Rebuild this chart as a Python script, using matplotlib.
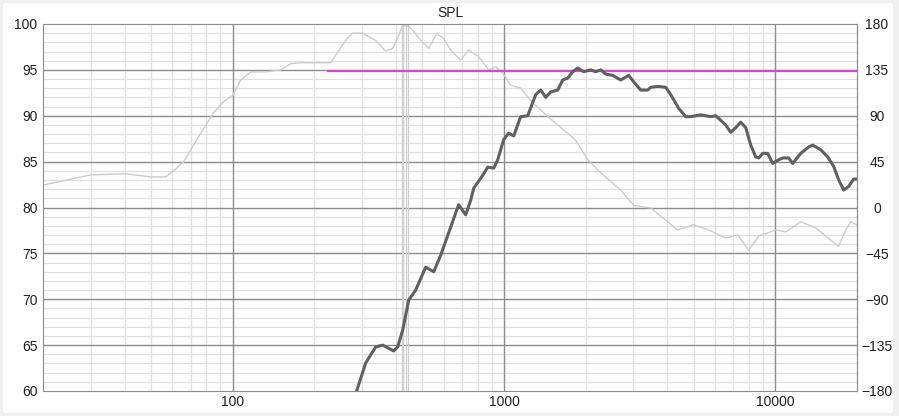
import numpy as np
import matplotlib.pyplot as plt
from matplotlib.patches import Rectangle

plt.rcParams['font.family'] = ['Liberation Sans', 'DejaVu Sans']
plt.rcParams['font.size'] = 10

# phase (deg, right axis)
phase_f = [20, 22.6, 30, 40.3, 49.9, 56.6, 60.1, 66, 74.3, 85.1, 91.9, 100, 107, 116.5,
           132.3, 150.3, 163.6, 178, 229.6, 261, 276.9, 301, 336, 366, 388.8, 409.6,
           423.5, 441.7, 460.8, 493, 527.8, 564.5, 594.4, 636, 692.3, 741, 806.8, 878.4,
           932.1, 989, 1058, 1152, 1254, 1425, 1660, 1838, 2034, 2272, 2693, 3006, 3473,
           4365, 5000, 5683, 6563, 7269, 7980, 8692, 10035, 10920, 12404, 14090, 16000,
           17130, 18180, 18970, 20000]
phase_deg = [22, 25, 32, 33, 30, 30, 35, 45, 68, 93, 103, 110, 125, 133,
             133, 135, 141, 142, 142, 164, 171, 171, 164, 153.5, 156, 169,
             179, 178, 174, 164, 156, 170, 167, 154.5, 144.7, 154.5, 148, 135,
             138, 132, 120, 117, 105, 91, 76, 66, 47, 34, 17, 2, -0.5,
             -22, -17, -22, -30, -27, -42, -28, -22, -24, -14, -20, -32,
             -38, -22, -14, -17]

# SPL (dB, left axis)
spl_f = [286.4, 309.2, 336.5, 357.2, 392.1, 405.6, 423.5, 445.4, 472.6, 514.5, 550.8,
         584.5, 663.7, 680.8, 722.5, 754, 773.5, 834.6, 871, 916.6, 948, 997.5, 1041,
         1086, 1152, 1223, 1309, 1366, 1425, 1486, 1578, 1646, 1717, 1792, 1869, 1967,
         2087, 2178, 2272, 2370, 2515, 2693, 2881, 3006, 3191, 3386, 3473, 3686, 3945,
         4117, 4406, 4675, 4876, 5309, 5779, 6031, 6563, 6848, 7146, 7457, 7781, 8118,
         8470, 8692, 8985, 9375, 9781, 10292, 10648, 11204, 11590, 12404, 13276, 13735,
         14700, 15600, 16400, 17130, 17870, 18640, 19450, 20000]
spl_db = [60.0, 63.05, 64.8, 65.0, 64.36, 64.8, 66.65, 69.9, 71.0, 73.5, 73.0,
          74.8, 79.4, 80.3, 79.2, 80.8, 82.1, 83.5, 84.4, 84.3, 85.2, 87.4, 88.1,
          87.8, 89.9, 90.0, 92.3, 92.8, 92.0, 92.6, 92.8, 93.9, 94.1, 94.8, 95.2, 94.8,
          95.0, 94.8, 95.0, 94.55, 94.4, 93.9, 94.4, 93.7, 92.8, 92.8, 93.1, 93.2, 93.1,
          92.3, 90.8, 89.9, 89.9, 90.1, 89.9, 90.0, 89.0, 88.2, 88.7, 89.3, 88.7, 86.8,
          85.5, 85.4, 85.9, 85.9, 84.8, 85.2, 85.4, 85.4, 84.8, 85.9, 86.6, 86.8,
          86.3, 85.5, 84.5, 83.0, 81.9, 82.3, 83.1, 83.1]

# target level line
target_f = [224, 20000]
target_db = [94.9, 94.9]

# marker lines
marker_f = [420, 425, 437, 443]


def db2deg(v):
    return (np.asarray(v) - 80) * 9.0


def deg2db(v):
    return np.asarray(v) / 9.0 + 80


W, H = 899, 416
fig = plt.figure(figsize=(W / 100, H / 100), dpi=100, facecolor='#f0f0f0')
fig.patches.append(Rectangle((3 / W, 3 / H), 890 / W, 410 / H, transform=fig.transFigure,
                             facecolor='white', edgecolor='none', zorder=-10))
ax = fig.add_axes([43 / W, 1 - 391 / H, (857 - 43) / W, (391 - 24) / H])
ax.set_xscale('log')
ax.set_xlim(20, 20000)
ax.set_ylim(60, 100)

# grid
minor_x = [m * 10 ** e for e in range(1, 5) for m in range(2, 10)]
for x in minor_x:
    if 20 < x < 20000:
        ax.axvline(x, color='#e0e0e0', lw=0.9, zorder=0)
for y in range(61, 100):
    if y % 5:
        ax.axhline(y, color='#e0e0e0', lw=0.9, zorder=0)
for x in [100, 1000, 10000]:
    ax.axvline(x, color='#8c8c8c', lw=1, zorder=1)
for y in range(65, 100, 5):
    ax.axhline(y, color='#8c8c8c', lw=1, zorder=1)
for x in marker_f:
    ax.axvline(x, color='#cfcfcf', lw=0.9, zorder=1)

ax.plot(phase_f, deg2db(phase_deg), color='#cccccc', lw=1.0, zorder=2)
ax.plot(target_f, target_db, color='#e040e0', lw=1.6, zorder=3)
ax.plot(spl_f, spl_db, color='#606060', lw=2.2, zorder=4,
        solid_joinstyle='round', solid_capstyle='round')

for s in ax.spines.values():
    s.set_color('#8c8c8c')

ax.set_xticks([100, 1000, 10000])
ax.set_xticklabels(['100', '1000', '10000'])
ax.xaxis.set_minor_locator(plt.NullLocator())
ax.set_yticks(range(60, 101, 5))
ax.tick_params(length=0, colors='#202020', labelsize=10)
ax.tick_params(axis='x', pad=3)
ax.tick_params(axis='y', pad=4)

sec = ax.secondary_yaxis('right', functions=(db2deg, deg2db))
sec.set_yticks(range(-180, 181, 45))
sec.tick_params(length=0, colors='#202020', labelsize=10, pad=14.4)
sec.spines['right'].set_color('#8c8c8c')
for t in sec.get_yticklabels():
    t.set_ha('center')

ax.set_title('SPL', fontsize=10, color='#202020', pad=5)

fig.savefig('out.png', dpi=100, facecolor=fig.get_facecolor())
